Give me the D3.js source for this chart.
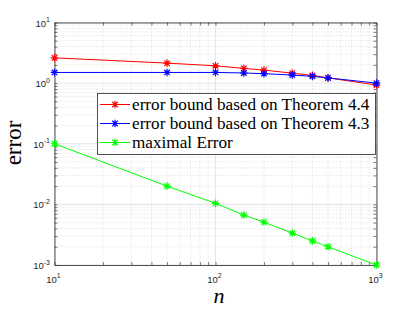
<!DOCTYPE html>
<html>
<head>
<meta charset="utf-8">
<script src="https://cdn.jsdelivr.net/npm/d3@7"></script>
<style>
  body { margin: 0; background: #fff; }
  svg { display: block; }
</style>
</head>
<body>
<div id="chart"></div>
<script>
// data
let nValues = [10, 50, 100, 150, 200, 300, 400, 500, 1000];
let bound44 = [2.61, 2.14, 1.93, 1.75, 1.64, 1.46, 1.34, 1.22, 0.93];
let bound43 = [1.50, 1.50, 1.50, 1.47, 1.43, 1.36, 1.29, 1.22, 1.00];
let maxError = [0.1, 0.02, 0.0104, 0.00667, 0.0051, 0.00335, 0.0025, 0.002, 0.001];
let seriesNames = ["error bound based on Theorem 4.4", "error bound based on Theorem 4.3", "maximal Error"];
let seriesColors = ["#ff0000", "#0000ff", "#00ff00"];
let xTickExps = [1, 2, 3];
let yTickExps = [1, 0, -1, -2, -3];

let width = 415, height = 312;
let plotLeft = 54.5, plotRight = 376.5, plotTop = 22.5, plotBottom = 265;
let serif = "'Liberation Serif', 'Times New Roman', serif";

let svg = d3.select("#chart").append("svg")
  .attr("width", width)
  .attr("height", height);

let xScale = d3.scaleLog().domain([10, 1000]).range([plotLeft, plotRight]);
let yScale = d3.scaleLog().domain([0.001, 10]).range([plotBottom, plotTop]);

// minor and major grid
let xMinor = [], yMinor = [];
for (let e = 1; e < 3; e++) for (let k = 2; k <= 9; k++) xMinor.push(k * Math.pow(10, e));
for (let e = -3; e < 1; e++) for (let k = 2; k <= 9; k++) yMinor.push(k * Math.pow(10, e));

let grid = svg.append("g");
grid.selectAll(".xm").data(xMinor).enter().append("line")
  .attr("x1", d => xScale(d)).attr("x2", d => xScale(d))
  .attr("y1", plotTop).attr("y2", plotBottom)
  .attr("stroke", "#c8c8c8").attr("stroke-width", 0.6).attr("stroke-dasharray", "1,2");
grid.selectAll(".ym").data(yMinor).enter().append("line")
  .attr("y1", d => yScale(d)).attr("y2", d => yScale(d))
  .attr("x1", plotLeft).attr("x2", plotRight)
  .attr("stroke", "#c8c8c8").attr("stroke-width", 0.6).attr("stroke-dasharray", "1,2");
grid.selectAll(".xM").data(xTickExps).enter().append("line")
  .attr("x1", d => xScale(Math.pow(10, d))).attr("x2", d => xScale(Math.pow(10, d)))
  .attr("y1", plotTop).attr("y2", plotBottom)
  .attr("stroke", "#e4e4e4").attr("stroke-width", 1);
grid.selectAll(".yM").data(yTickExps).enter().append("line")
  .attr("y1", d => yScale(Math.pow(10, d))).attr("y2", d => yScale(Math.pow(10, d)))
  .attr("x1", plotLeft).attr("x2", plotRight)
  .attr("stroke", "#e4e4e4").attr("stroke-width", 1);

// axes box with inward ticks
let axisColor = "#262626";
let xTicksAll = xMinor.concat(xTickExps.map(e => Math.pow(10, e)));
let yTicksAll = yMinor.concat(yTickExps.map(e => Math.pow(10, e)));
let xAxisB = d3.axisBottom(xScale).tickValues(xTicksAll).tickSizeInner(-3).tickSizeOuter(0).tickFormat("");
let xAxisT = d3.axisTop(xScale).tickValues(xTicksAll).tickSizeInner(-3).tickSizeOuter(0).tickFormat("");
let yAxisL = d3.axisLeft(yScale).tickValues(yTicksAll).tickSizeInner(-3).tickSizeOuter(0).tickFormat("");
let yAxisR = d3.axisRight(yScale).tickValues(yTicksAll).tickSizeInner(-3).tickSizeOuter(0).tickFormat("");

function styleAxis(g) {
  g.selectAll("path").attr("stroke", axisColor).attr("stroke-width", 0.8);
  g.selectAll("line").attr("stroke", axisColor).attr("stroke-width", 0.6);
}
svg.append("g").attr("transform", `translate(0,${plotBottom})`).call(xAxisB).call(styleAxis);
svg.append("g").attr("transform", `translate(0,${plotTop})`).call(xAxisT).call(styleAxis);
svg.append("g").attr("transform", `translate(${plotLeft},0)`).call(yAxisL).call(styleAxis);
svg.append("g").attr("transform", `translate(${plotRight},0)`).call(yAxisR).call(styleAxis);

// tick labels 10^k
let tickFont = "'Liberation Sans', Arial, sans-serif";
xTickExps.forEach(function(e) {
  let t = svg.append("text")
    .attr("x", xScale(Math.pow(10, e)) - 1)
    .attr("y", 282.5)
    .attr("text-anchor", "middle")
    .attr("font-family", tickFont).attr("font-size", 9.5).attr("fill", axisColor);
  t.append("tspan").text("10");
  t.append("tspan").attr("dy", -4.5).attr("font-size", 7).text(e);
});
yTickExps.forEach(function(e) {
  let t = svg.append("text")
    .attr("x", 50)
    .attr("y", yScale(Math.pow(10, e)) + 4)
    .attr("text-anchor", "end")
    .attr("font-family", tickFont).attr("font-size", 9.5).attr("fill", axisColor);
  t.append("tspan").text("10");
  t.append("tspan").attr("dy", -4.5).attr("font-size", 7).text(e);
});

// series
let allSeries = [bound44, bound43, maxError];
let line = d3.line().x((d, i) => xScale(nValues[i])).y(d => yScale(d));

function starPath(cx, cy, r) {
  let d2 = r * 0.72;
  return `M${cx - r},${cy}L${cx + r},${cy}M${cx},${cy - r}L${cx},${cy + r}` +
    `M${cx - d2},${cy - d2}L${cx + d2},${cy + d2}M${cx - d2},${cy + d2}L${cx + d2},${cy - d2}`;
}

allSeries.forEach(function(vals, s) {
  svg.append("path")
    .datum(vals)
    .attr("d", line)
    .attr("fill", "none")
    .attr("stroke", seriesColors[s])
    .attr("stroke-width", 1);
  svg.append("g").selectAll("path")
    .data(vals)
    .enter()
    .append("path")
    .attr("d", (d, i) => starPath(xScale(nValues[i]), yScale(d), 3.8))
    .attr("stroke", seriesColors[s])
    .attr("stroke-width", 1.2)
    .attr("fill", "none");
});

// legend
let legend = svg.append("g");
legend.append("rect")
  .attr("x", 97.5).attr("y", 93.5)
  .attr("width", 278).attr("height", 61)
  .attr("fill", "#fff").attr("stroke", axisColor).attr("stroke-width", 0.8);
seriesNames.forEach(function(name, s) {
  let y = 104.5 + s * 19;
  legend.append("line")
    .attr("x1", 100).attr("x2", 130).attr("y1", y).attr("y2", y)
    .attr("stroke", seriesColors[s]).attr("stroke-width", 1);
  legend.append("path")
    .attr("d", starPath(115, y, 3.8))
    .attr("stroke", seriesColors[s]).attr("stroke-width", 1.2);
  legend.append("text")
    .attr("x", 132).attr("y", y + 5)
    .attr("font-family", serif)
    .attr("font-size", 17.2)
    .attr("fill", "#000")
    .text(name);
});

// axis titles
svg.append("text")
  .attr("transform", `translate(21,143) rotate(-90)`)
  .attr("text-anchor", "middle")
  .attr("font-family", serif)
  .attr("font-size", 23)
  .attr("fill", "#000")
  .text("error");
svg.append("text")
  .attr("x", 219)
  .attr("y", 302.5)
  .attr("text-anchor", "middle")
  .attr("font-family", serif)
  .attr("font-style", "italic")
  .attr("font-size", 22)
  .attr("fill", "#000")
  .text("n");
</script>
</body>
</html>
